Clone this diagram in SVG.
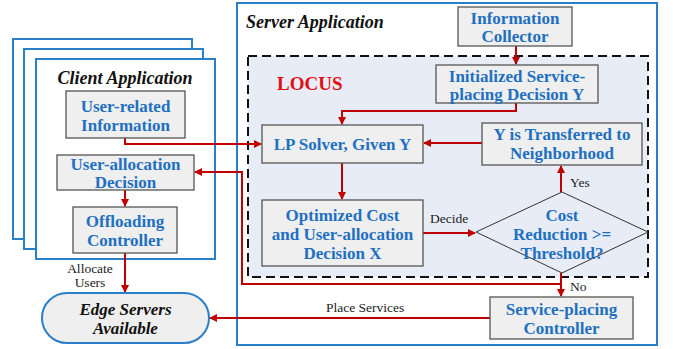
<svg xmlns="http://www.w3.org/2000/svg" width="673" height="349" viewBox="0 0 673 349">
<defs>
<marker id="ah" markerWidth="8" markerHeight="8" refX="7" refY="4" orient="auto" markerUnits="userSpaceOnUse">
<path d="M0,0 L8,4 L0,8 Z" fill="#c00000"/>
</marker>
<style>
.frame{fill:#fff;stroke:#2a7fc8;stroke-width:2}
.box{fill:#efefef;stroke:#555;stroke-width:1.3}
.bt{font-family:'Liberation Serif',serif;font-weight:bold;font-size:17px;fill:#1f70c1;text-anchor:middle}
.title{font-family:'Liberation Serif',serif;font-weight:bold;font-style:italic;font-size:18px;fill:#111}
.lbl{font-family:'Liberation Serif',serif;font-size:13.5px;fill:#222}
.c{fill:none;stroke:#c00000;stroke-width:2;marker-end:url(#ah)}
</style>
</defs>
<rect width="673" height="349" fill="#fff"/>
<g id="client-frames">
<rect class="frame" x="13" y="39" width="179" height="200"/>
<rect class="frame" x="24" y="49" width="179" height="200"/>
<rect class="frame" x="36" y="59" width="179" height="200"/>
<text class="title" x="125" y="84" text-anchor="middle">Client Application</text>
</g>
<g id="server-frame">
<rect class="frame" x="237" y="3" width="420" height="342"/>
<text class="title" x="246" y="28">Server Application</text>
</g>
<g id="locus">
<rect x="248" y="56" width="400" height="221" fill="#e8ecf6" stroke="#111" stroke-width="2" stroke-dasharray="9,5"/>
<text x="277" y="90" font-family="'Liberation Serif',serif" font-weight="bold" font-size="19" fill="#e01010">LOCUS</text>
</g>
<g id="connectors">
<path class="c" d="M516,46 V64"/>
<path class="c" d="M516,103 V111 H342 V124"/>
<path class="c" d="M125,138 V144 H261"/>
<path class="c" d="M342,163 V199"/>
<path class="c" d="M482,143 H424"/>
<path class="c" d="M423,233 H475"/>
<path class="c" d="M561,192 V166"/>
<path class="c" d="M561,273 V296"/>
<path class="c" d="M561,284 H242 V172 H195"/>
<path class="c" d="M490,318 H210"/>
<path class="c" d="M125,190 V206"/>
<path class="c" d="M125,253 V292"/>
<text class="lbl" x="430" y="223">Decide</text>
<text class="lbl" x="570" y="187">Yes</text>
<text class="lbl" x="570" y="291">No</text>
<text class="lbl" x="326" y="312">Place Services</text>
<text class="lbl" x="90" y="273" text-anchor="middle">Allocate</text>
<text class="lbl" x="90" y="287" text-anchor="middle">Users</text>
</g>
<g id="user-related-info">
<rect class="box" x="66" y="91" width="119" height="47"/>
<text class="bt" x="125.5" y="112">User-related</text>
<text class="bt" x="125.5" y="131">Information</text>
</g>
<g id="user-allocation-decision">
<rect class="box" x="57" y="155" width="137" height="35"/>
<text class="bt" x="125.5" y="170">User-allocation</text>
<text class="bt" x="125.5" y="188">Decision</text>
</g>
<g id="offloading-controller">
<rect class="box" x="73" y="207" width="104" height="46"/>
<text class="bt" x="125" y="227">Offloading</text>
<text class="bt" x="125" y="246">Controller</text>
</g>
<g id="edge-servers">
<rect x="42" y="293" width="167" height="50" rx="25" ry="25" fill="#efefef" stroke="#2a7fc8" stroke-width="2"/>
<text x="125.5" y="315" text-anchor="middle" font-family="'Liberation Serif',serif" font-weight="bold" font-style="italic" font-size="17" fill="#111">Edge Servers</text>
<text x="125.5" y="334" text-anchor="middle" font-family="'Liberation Serif',serif" font-weight="bold" font-style="italic" font-size="17" fill="#111">Available</text>
</g>
<g id="information-collector">
<rect class="box" x="458" y="7" width="114" height="39"/>
<text class="bt" x="515" y="24">Information</text>
<text class="bt" x="515" y="42">Collector</text>
</g>
<g id="initialized-decision">
<rect class="box" x="436" y="65" width="162" height="38"/>
<text class="bt" x="517" y="82">Initialized Service-</text>
<text class="bt" x="517" y="100">placing Decision Y</text>
</g>
<g id="lp-solver">
<rect class="box" x="262" y="125" width="161" height="38"/>
<text class="bt" x="342.5" y="150">LP Solver, Given Y</text>
</g>
<g id="y-transferred">
<rect class="box" x="482" y="123" width="160" height="42"/>
<text class="bt" x="562" y="140">Y is Transferred to</text>
<text class="bt" x="562" y="159">Neighborhood</text>
</g>
<g id="optimized-cost">
<rect class="box" x="262" y="200" width="161" height="66"/>
<text class="bt" x="342.5" y="221">Optimized Cost</text>
<text class="bt" x="342.5" y="240">and User-allocation</text>
<text class="bt" x="342.5" y="259">Decision X</text>
</g>
<g id="cost-reduction">
<polygon points="562,192 648,232 562,273 476,232" fill="#e8ecf6" stroke="#333" stroke-width="1"/>
<text class="bt" x="562" y="221">Cost</text>
<text class="bt" x="562" y="240">Reduction &gt;=</text>
<text class="bt" x="562" y="259">Threshold?</text>
</g>
<g id="service-placing-controller">
<rect class="box" x="490" y="297" width="143" height="42"/>
<text class="bt" x="561.5" y="315">Service-placing</text>
<text class="bt" x="561.5" y="334">Controller</text>
</g>
</svg>
